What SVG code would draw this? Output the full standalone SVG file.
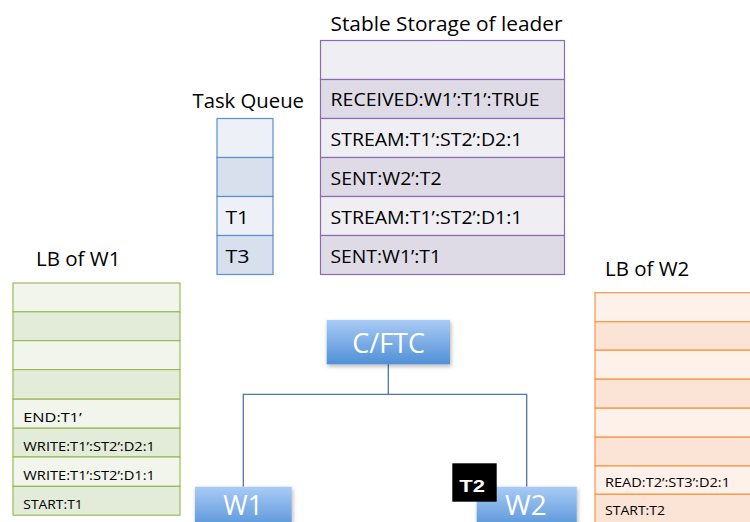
<svg xmlns="http://www.w3.org/2000/svg" width="750" height="522" viewBox="0 0 750 522">
<defs>
<linearGradient id="blue" x1="0" y1="0" x2="0" y2="1">
<stop offset="0" stop-color="#a9cbf6"/>
<stop offset="1" stop-color="#5090d6"/>
</linearGradient>
<filter id="sh" x="-10%" y="-10%" width="130%" height="140%">
<feDropShadow dx="1" dy="2" stdDev="1.5" flood-color="#000" flood-opacity="0.3"/>
</filter>
<style>
text{font-family:"Open Sans","Liberation Sans",sans-serif;fill:#000}
.title{font-size:20px}
.ss{font-size:18px}
.lb{font-size:12.5px}
.node{font-size:28px;fill:#fff}
.ssa{fill:#efeef3;stroke:#8c6cb0;stroke-width:1.2}
.ssb{fill:#dedbe6;stroke:#8c6cb0;stroke-width:1.2}
.tqa{fill:#edf0f6;stroke:#5b8fd0;stroke-width:1.2}
.tqb{fill:#d8dfed;stroke:#5b8fd0;stroke-width:1.2}
.ga{fill:#f1f5ec;stroke:#9bbb59;stroke-width:1.2}
.gb{fill:#e3ebd9;stroke:#9bbb59;stroke-width:1.2}
.oa{fill:#fdf1ea;stroke:#f79646;stroke-width:1.2}
.ob{fill:#fbe3d6;stroke:#f79646;stroke-width:1.2}
.conn{fill:none;stroke:#4a78a8;stroke-width:1.3}
</style>
</defs>
<rect width="750" height="522" fill="#fff"/>

<g id="stable-storage">
<text class="title" x="330.5" y="30.5" textLength="232" lengthAdjust="spacingAndGlyphs">Stable Storage of leader</text>
<rect class="ssa" x="320.5" y="40.5" width="244" height="39"/>
<rect class="ssb" x="320.5" y="79.5" width="244" height="39"/>
<rect class="ssa" x="320.5" y="118.5" width="244" height="39"/>
<rect class="ssb" x="320.5" y="157.5" width="244" height="39"/>
<rect class="ssa" x="320.5" y="196.5" width="244" height="39"/>
<rect class="ssb" x="320.5" y="235.5" width="244" height="39"/>
<text class="ss" x="330.5" y="106" textLength="209" lengthAdjust="spacingAndGlyphs">RECEIVED:W1’:T1’:TRUE</text>
<text class="ss" x="330.5" y="145.5" textLength="192" lengthAdjust="spacingAndGlyphs">STREAM:T1’:ST2’:D2:1</text>
<text class="ss" x="330.5" y="185" textLength="111" lengthAdjust="spacingAndGlyphs">SENT:W2’:T2</text>
<text class="ss" x="330.5" y="224" textLength="192" lengthAdjust="spacingAndGlyphs">STREAM:T1’:ST2’:D1:1</text>
<text class="ss" x="330.5" y="263.3" textLength="110.5" lengthAdjust="spacingAndGlyphs">SENT:W1’:T1</text>
</g>

<g id="task-queue">
<text class="title" x="192.5" y="108.3" textLength="111.5" lengthAdjust="spacingAndGlyphs">Task Queue</text>
<rect class="tqa" x="217" y="118.5" width="56" height="39"/>
<rect class="tqb" x="217" y="157.5" width="56" height="39"/>
<rect class="tqa" x="217" y="196.5" width="56" height="39"/>
<rect class="tqb" x="217" y="235.5" width="56" height="39"/>
<text class="ss" x="225.5" y="224" textLength="23.5" lengthAdjust="spacingAndGlyphs">T1</text>
<text class="ss" x="225.5" y="263.3" textLength="24" lengthAdjust="spacingAndGlyphs">T3</text>
</g>

<g id="lb-w1">
<text class="title" x="36" y="266" textLength="84.5" lengthAdjust="spacingAndGlyphs">LB of W1</text>
<rect class="ga" x="13" y="283" width="167" height="28.8"/>
<rect class="gb" x="13" y="311.8" width="167" height="28.8"/>
<rect class="ga" x="13" y="340.6" width="167" height="29"/>
<rect class="gb" x="13" y="369.6" width="167" height="29.6"/>
<rect class="ga" x="13" y="399.2" width="167" height="29"/>
<rect class="gb" x="13" y="428.2" width="167" height="28.8"/>
<rect class="ga" x="13" y="457" width="167" height="29.4"/>
<rect class="gb" x="13" y="486.4" width="167" height="28.8"/>
<text class="lb" x="23.3" y="422" textLength="58.4" lengthAdjust="spacingAndGlyphs">END:T1’</text>
<text class="lb" x="23.3" y="451" textLength="131.7" lengthAdjust="spacingAndGlyphs">WRITE:T1’:ST2’:D2:1</text>
<text class="lb" x="23.3" y="479.5" textLength="131.7" lengthAdjust="spacingAndGlyphs">WRITE:T1’:ST2’:D1:1</text>
<text class="lb" x="23.3" y="508.5" textLength="59.4" lengthAdjust="spacingAndGlyphs">START:T1</text>
</g>

<g id="lb-w2">
<text class="title" x="605" y="276" textLength="84.3" lengthAdjust="spacingAndGlyphs">LB of W2</text>
<rect class="oa" x="595" y="292.7" width="160" height="29"/>
<rect class="ob" x="595" y="321.7" width="160" height="28.5"/>
<rect class="oa" x="595" y="350.2" width="160" height="29"/>
<rect class="ob" x="595" y="379.2" width="160" height="29"/>
<rect class="oa" x="595" y="408.2" width="160" height="29"/>
<rect class="ob" x="595" y="437.2" width="160" height="28.8"/>
<rect class="oa" x="595" y="466" width="160" height="28.3"/>
<rect class="ob" x="595" y="494.3" width="160" height="30"/>
<text class="lb" x="605" y="487.3" textLength="125" lengthAdjust="spacingAndGlyphs">READ:T2’:ST3’:D2:1</text>
<text class="lb" x="605" y="515" textLength="60" lengthAdjust="spacingAndGlyphs">START:T2</text>
</g>

<g id="connectors">
<path class="conn" d="M388.3,364 V394.3 M243.3,486.7 V394.3 H526.7 V486.7"/>
</g>

<g id="cftc">
<rect x="326.7" y="320" width="123.3" height="44.3" fill="url(#blue)" filter="url(#sh)"/>
<text class="node" x="352.3" y="353.3" textLength="72.7" lengthAdjust="spacingAndGlyphs">C/FTC</text>
</g>

<g id="w1">
<rect x="195" y="486.7" width="96.7" height="45" fill="url(#blue)" filter="url(#sh)"/>
<text class="node" x="223.3" y="515" style="font-size:27px" textLength="39.5" lengthAdjust="spacingAndGlyphs">W1</text>
</g>

<g id="w2">
<rect x="476.7" y="486.7" width="100" height="45" fill="url(#blue)" filter="url(#sh)"/>
<text class="node" x="505" y="515" style="font-size:27px" textLength="41.7" lengthAdjust="spacingAndGlyphs">W2</text>
</g>

<g id="t2-label">
<rect x="452.3" y="463.3" width="44.4" height="38.4" fill="#000"/>
<text x="459.3" y="491.7" style="font-family:'Liberation Sans','Open Sans',sans-serif;font-size:16px;font-weight:bold;fill:#fff" textLength="25.7" lengthAdjust="spacingAndGlyphs">T2</text>
</g>
</svg>
